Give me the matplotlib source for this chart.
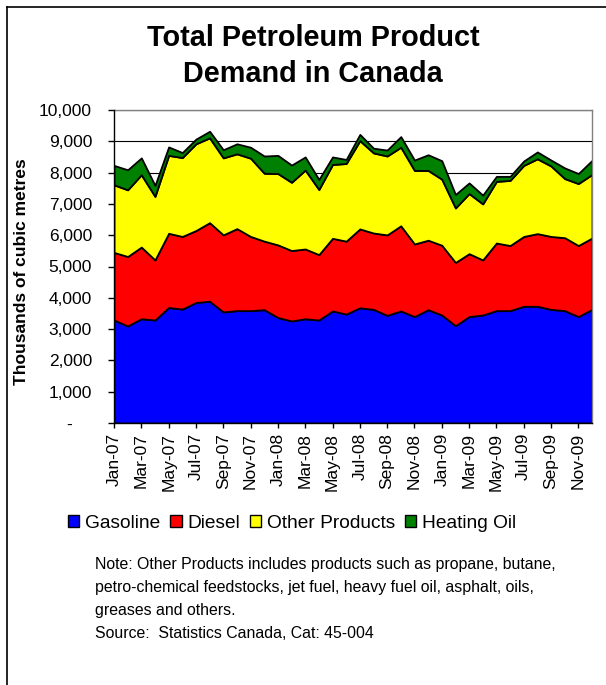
import numpy as np
import matplotlib
matplotlib.use('Agg')
import matplotlib.pyplot as plt
from matplotlib.patches import Patch
from matplotlib.lines import Line2D
from matplotlib.ticker import FuncFormatter

plt.rcParams['font.family'] = ['Liberation Sans', 'DejaVu Sans']

# monthly demand, thousands of cubic metres, Jan-07 .. Dec-09
month_names = ['Jan', 'Feb', 'Mar', 'Apr', 'May', 'Jun',
               'Jul', 'Aug', 'Sep', 'Oct', 'Nov', 'Dec']
years = ['07', '08', '09']
months = [m + '-' + y for y in years for m in month_names]

gasoline = [3290, 3100, 3330, 3290, 3690, 3640, 3850, 3890, 3550, 3590, 3590, 3620,
            3370, 3260, 3330, 3290, 3580, 3480, 3680, 3630, 3440, 3580, 3400, 3620,
            3450, 3110, 3400, 3450, 3590, 3590, 3730, 3730, 3630, 3590, 3400, 3630]
diesel = [2160, 2220, 2290, 1920, 2370, 2320, 2300, 2510, 2460, 2620, 2370, 2190,
          2320, 2250, 2230, 2090, 2320, 2330, 2520, 2440, 2570, 2720, 2320, 2220,
          2230, 2020, 2010, 1760, 2160, 2080, 2230, 2320, 2330, 2330, 2270, 2280]
other = [2160, 2130, 2310, 2030, 2490, 2520, 2770, 2710, 2460, 2390, 2500, 2170,
         2280, 2180, 2520, 2080, 2360, 2480, 2820, 2560, 2520, 2510, 2350, 2230,
         2110, 1740, 1920, 1790, 1970, 2080, 2270, 2390, 2250, 1890, 1980, 2030]
heating = [620, 640, 540, 350, 270, 160, 150, 210, 260, 320, 350, 550,
           580, 550, 420, 320, 240, 130, 200, 150, 190, 340, 330, 500,
           590, 430, 340, 280, 160, 130, 140, 220, 190, 340, 320, 450]

series_names = ['Gasoline', 'Diesel', 'Other Products', 'Heating Oil']
colors = ['#0000FF', '#FF0000', '#FFFF00', '#008000']

W, H = 606, 685
fig = plt.figure(figsize=(W / 100, H / 100), dpi=100)
fig.set_facecolor('white')

# plot area in pixels: left 114, right 592, top 110, bottom 423
ax = fig.add_axes([114 / W, 1 - 423 / H, (592 - 114) / W, (423 - 110) / H])

x = np.arange(len(months))
ax.stackplot(x, gasoline, diesel, other, heating, colors=colors,
             edgecolor='black', linewidth=1.3, zorder=2)

ax.set_xlim(0, len(months) - 1)
ax.set_ylim(0, 10000)
ax.set_yticks(np.arange(0, 10001, 1000))
ax.yaxis.set_major_formatter(FuncFormatter(
    lambda v, p: '-    ' if v == 0 else '{:,}'.format(int(v))))
ax.set_xticks(x[::2])
ax.set_xticklabels(months[::2], rotation=90)

ax.grid(axis='y', color='black', linewidth=0.8)
ax.set_axisbelow(True)

ax.tick_params(axis='y', direction='out', length=4.3, width=1, pad=11.5,
               labelsize=12.5, colors='black')
ax.tick_params(axis='x', direction='out', length=3.6, width=1, pad=3.6,
               labelsize=12.5, colors='black')

for s in ['left', 'bottom']:
    ax.spines[s].set(color='black', linewidth=1.0, zorder=3)
for s in ['top', 'right']:
    ax.spines[s].set(color='#808080', linewidth=1.0)

# title and axis label
fig.text(313 / W, 1 - 56 / H, 'Total Petroleum Product\nDemand in Canada',
         ha='center', va='center', fontsize=20.8, fontweight='bold', linespacing=1.32)
fig.text(22 / W, 1 - 272 / H, 'Thousands of cubic metres', rotation=90,
         ha='center', va='center', fontsize=12.5, fontweight='bold')

# legend
handles = [Patch(facecolor=c, edgecolor='black', linewidth=1.0) for c in colors]
fig.legend(handles, series_names, loc='center', bbox_to_anchor=(292 / W, 1 - 523 / H),
           ncol=4, frameon=False, fontsize=13.8, handlelength=0.6, handleheight=0.6,
           handletextpad=0.3, columnspacing=0.5, borderpad=0)

# note lines
notes = ['Note: Other Products includes products such as propane, butane,',
         'petro-chemical feedstocks, jet fuel, heavy fuel oil, asphalt, oils,',
         'greases and others.',
         'Source:  Statistics Canada, Cat: 45-004']
for i, line in enumerate(notes):
    fig.text(95 / W, 1 - (569 + 23 * i) / H, line, ha='left', va='baseline',
             fontsize=11.4)

# outer chart frame (left and top edges visible)
fig.add_artist(Line2D([7 / W, 7 / W], [0, 1 - 7 / H], color='black', linewidth=1.2))
fig.add_artist(Line2D([7 / W, 1], [1 - 7 / H, 1 - 7 / H], color='black', linewidth=1.2))

fig.savefig('out.png', dpi=100)
